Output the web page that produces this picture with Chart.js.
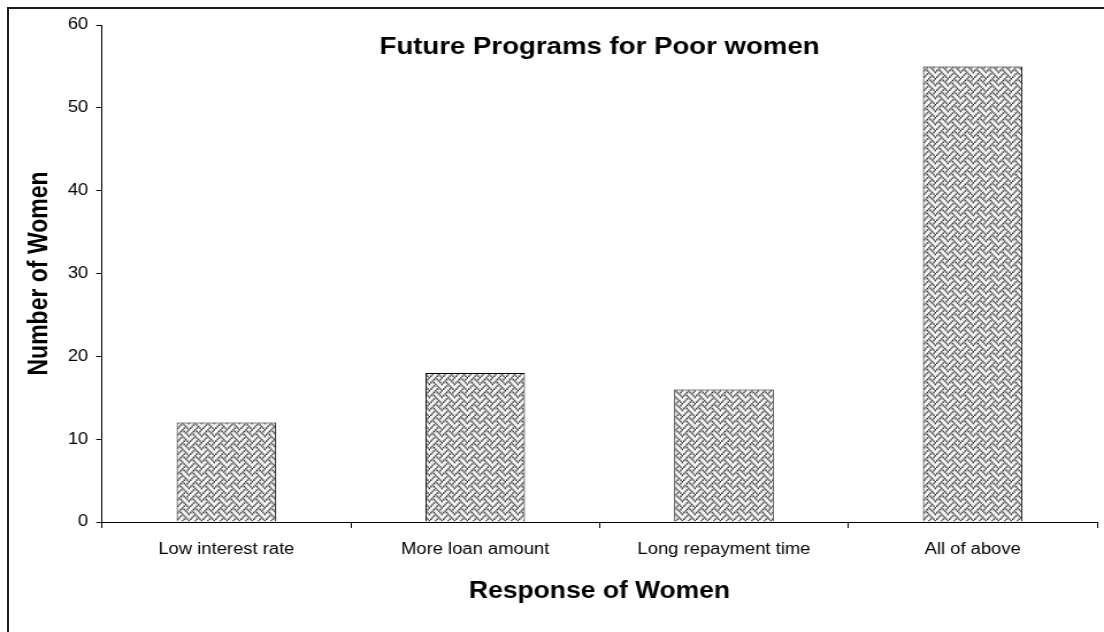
<!DOCTYPE html>
<html>
<head>
<meta charset="utf-8">
<script src="https://cdn.jsdelivr.net/npm/chart.js@4/dist/chart.umd.min.js"></script>
<style>
  html, body { margin: 0; padding: 0; background: #fff; overflow: hidden; }
  #page { position: relative; width: 1104px; height: 632px; overflow: hidden; }
  #frame { position: absolute; left: 7px; top: 7px; width: 1200px; height: 700px; border: 2px solid #1a1a1a; }
  #wrap { position: absolute; left: 0; top: 0; width: 960px; height: 632px; transform: scaleX(1.15); transform-origin: 0 0; }
</style>
</head>
<body>
<div id="page">
  <div id="frame"></div>
  <div id="wrap"><canvas id="c"></canvas></div>
</div>
<script>
const chartTitle = 'Future Programs for Poor women';
const xAxisTitle = 'Response of Women';
const yAxisTitle = 'Number of Women';
const categories = ['Low interest rate', 'More loan amount', 'Long repayment time', 'All of above'];
const responses = [12, 18, 16, 55];
const yTickMin = 0;
const yTickMax = 60;
const yTickStep = 10;

const FAMILY = 'Arial, "Liberation Sans", Helvetica, sans-serif';

// Woven hatch fill, built from an 8x8 bit tile
function weavePattern() {
  const bits = [0x11, 0x2a, 0x44, 0xa2, 0x11, 0x28, 0x44, 0x8a];
  const tile = document.createElement('canvas');
  tile.width = 8; tile.height = 8;
  const t = tile.getContext('2d');
  t.fillStyle = '#f8f8f8';
  t.fillRect(0, 0, 8, 8);
  t.fillStyle = '#2e2e2e';
  for (let y = 0; y < 8; y++) {
    for (let x = 0; x < 8; x++) {
      if (bits[y] & (0x80 >> x)) t.fillRect(x, y, 1, 1);
    }
  }
  const big = document.createElement('canvas');
  big.width = 11; big.height = 13;
  const b = big.getContext('2d');
  b.imageSmoothingEnabled = true;
  b.drawImage(tile, 0, 0, 11, 13);
  return b.createPattern(big, 'repeat');
}

const innerTitle = {
  id: 'innerTitle',
  afterDraw(chart) {
    const { ctx, chartArea } = chart;
    ctx.save();
    ctx.font = 'bold 24px ' + FAMILY;
    ctx.fillStyle = '#000';
    ctx.textAlign = 'center';
    ctx.textBaseline = 'middle';
    ctx.fillText(chartTitle, (chartArea.left + chartArea.right) / 2, chartArea.top + 22);
    ctx.restore();
  }
};

const axisFont = { family: FAMILY, size: 23, weight: 'bold' };
const tickFont = { family: FAMILY, size: 16 };

new Chart(document.getElementById('c'), {
  type: 'bar',
  data: {
    labels: categories,
    datasets: [{
      data: responses,
      backgroundColor: weavePattern(),
      borderColor: '#000',
      borderWidth: 1,
      barPercentage: 0.4,
      categoryPercentage: 1.0
    }]
  },
  options: {
    responsive: true,
    maintainAspectRatio: false,
    animation: false,
    layout: { padding: { left: 17, top: 25, right: 6, bottom: 23 } },
    plugins: { legend: { display: false }, tooltip: { enabled: false }, title: { display: false } },
    scales: {
      x: {
        offset: true,
        grid: { display: true, drawOnChartArea: false, drawTicks: true, tickLength: 6, color: '#000', offset: true },
        border: { display: true, color: '#000', width: 1 },
        ticks: { color: '#000', font: tickFont, padding: 12, maxRotation: 0 },
        title: { display: true, text: xAxisTitle, color: '#000', font: axisFont, padding: { top: 4, bottom: 4 } },
        afterFit(scale) { scale.height = 87; }
      },
      y: {
        min: yTickMin,
        max: yTickMax,
        ticks: { stepSize: yTickStep, color: '#000', font: tickFont, padding: 7 },
        grid: { display: true, drawOnChartArea: false, drawTicks: true, tickLength: 5, color: '#000' },
        border: { display: true, color: '#000', width: 1 },
        title: { display: true, text: yAxisTitle, color: '#000', font: axisFont, padding: { top: 4, bottom: 4 } },
        afterFit(scale) { scale.width = 71.7; }
      }
    }
  },
  plugins: [innerTitle]
});
</script>
</body>
</html>
